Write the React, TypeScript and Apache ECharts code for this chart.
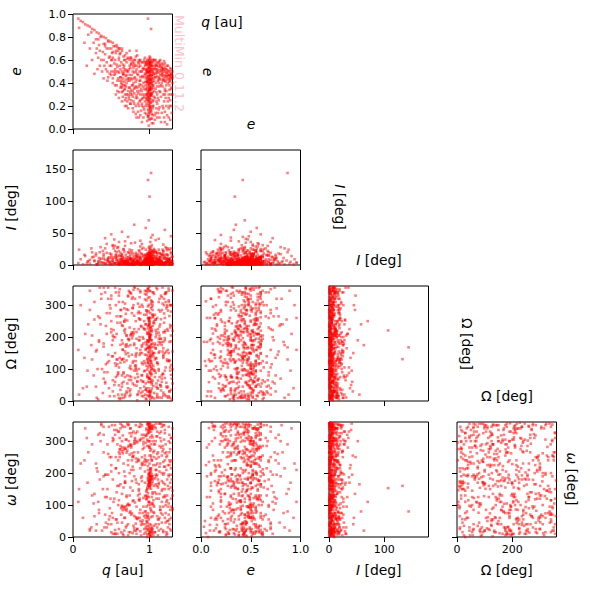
import React, { useEffect, useRef } from "react";
import * as echarts from "echarts";

// Rows, by region of the cloud: [q, e, I, Omega, omega]
const ridgeRows = [
[.98,.55,6,120,183],[1.01,.58,3,210,176],[1.04,.52,9,64,190],[.99,.47,2,301,160],[1.02,.6,12,178,205],[.97,.5,5,18,150],[1.05,.44,1,245,182],[1,.36,7,92,172],[.96,.41,4,333,142],[1.03,.31,11,156,196],
[1.02,.26,2,220,188],[.99,.22,8,40,167],[1.01,.18,5,275,179],[.97,.29,3,131,352],[1,.34,14,199,8],[1.03,.39,6,12,345],[.98,.45,1,350,20],[1.01,.51,9,86,3],[.99,.57,4,168,335],[1.04,.6,2,262,14],
[1.02,.15,10,108,27],[.98,.11,3,227,358],[1,.08,6,59,341],[1.03,.05,1,312,12],[.99,.03,4,185,32],[.96,.56,7,144,120],[1.01,.62,15,28,212],[1,.54,3,239,230],[.97,.49,2,77,125],[1.02,.43,5,290,248],
[.95,.38,8,163,130],[1.06,.33,4,8,160],[1,.28,1,203,108],[.98,.24,11,119,74],[1.01,.2,6,344,300],[1.03,.58,2,52,318],[.99,.53,18,255,285],[1.02,.48,4,137,62],[.97,.42,9,216,44],[1,.37,3,71,330],
[1.04,.32,7,309,174],[.98,.27,1,186,186],[1.01,.23,5,33,192],[1,.6,10,148,158],[.99,.56,2,281,200],[1.03,.5,13,101,168],[.96,.46,6,5,146],[1.02,.4,1,232,215],[1,.35,4,170,340],[.98,.3,8,323,355],
[1.05,.25,2,47,5],[1.01,.19,9,195,18],[.99,.14,3,259,348],[1.02,.09,6,124,38],[1,.59,1,358,177],[.97,.52,5,83,154],[1.03,.47,12,224,181],[1.01,.42,3,142,209],[.98,.38,7,296,137],[1,.33,2,15,171],
[1.02,.57,16,67,352],[.99,.61,4,188,9],[1.04,.55,1,270,338],[1,.49,8,114,25],[.97,.44,3,341,48],[1.01,.4,6,206,312],[1.03,.35,2,39,190],[.98,.28,10,153,175],[1,.21,5,248,202],[1.02,.16,1,96,162],
[.94,.48,9,318,128],[1.07,.53,3,175,184],[1,.63,6,24,195],[.99,.12,21,211,349],[1.01,.46,2,129,2],[.96,.35,4,283,118],[1.03,.29,7,58,22],[1,.26,1,192,356],[.98,.58,11,354,327],[1.02,.37,5,103,151],
[1,.52,24,160,178],[1.01,.44,19,228,15],[.99,.31,27,74,196],[1.02,.55,22,305,340],[.98,.2,16,139,165],[1.03,.41,31,11,30],[1,.57,29,252,164],[.97,.25,18,180,8],[1.01,.5,36,88,187],[1,.34,14,216,355],
[1,.5,3,198,170],[1.01,.47,1,165,186],[.99,.39,2,235,193],[1,.43,4,154,12],[1.02,.36,1,207,347],[.99,.27,2,172,178],[1,.31,5,243,160],[1.01,.55,1,126,200],[.98,.33,3,190,24],[1.03,.46,2,218,339]
];

const chevronRows = [
[.66,.48,7,132,92],[.68,.35,3,213,86],[.64,.42,11,45,98],[.7,.51,1,287,82],[.72,.3,5,171,104],[.74,.55,9,78,76],[.76,.44,2,336,70],[.78,.38,6,204,112],[.82,.5,4,112,62],[.84,.27,13,19,56],
[.86,.57,1,259,116],[.88,.45,8,150,50],[.9,.33,3,301,46],[.92,.53,6,61,122],[.94,.24,2,224,40],[.95,.58,10,184,30],[.97,.41,4,98,128],[.8,.31,7,357,66],[.7,.4,2,127,88],[.67,.5,5,248,94],
[.63,.37,14,9,90],[.73,.28,1,193,100],[.77,.47,4,320,74],[.81,.36,9,72,108],[.65,.33,3,161,84],[.69,.46,6,273,96],[.75,.22,2,36,80],[.83,.52,12,216,58],[.87,.39,1,144,114],[.91,.3,5,295,52],
[.66,.47,2,86,272],[.64,.39,8,237,268],[.68,.52,4,14,276],[.7,.3,1,178,264],[.72,.44,6,327,282],[.74,.36,3,103,258],[.76,.56,10,209,288],[.78,.28,2,55,252],[.8,.49,5,267,292],[.82,.41,1,139,246],
[.84,.33,7,2,296],[.86,.54,3,190,240],[.88,.25,11,345,304],[.9,.46,2,81,232],[.92,.37,4,229,310],[.94,.58,6,118,226],[.96,.3,1,284,318],[.98,.5,9,166,222],[.99,.43,3,30,326],[.71,.5,5,252,270],
[.67,.34,2,122,280],[.65,.44,12,310,262],[.73,.26,1,66,286],[.77,.38,4,196,262],[.79,.53,8,348,254],[.83,.29,3,150,300],[.85,.47,6,22,244],[.89,.35,1,233,308],[.93,.52,2,93,236],[.97,.4,7,278,322],
[.62,.45,4,176,274],[.6,.49,1,49,266],[.75,.32,9,339,290],[.81,.55,2,110,294],[.87,.42,5,256,302],[.91,.27,1,200,228],[.95,.48,3,8,316],[.69,.37,16,147,276],[.78,.58,6,292,250],[.85,.31,2,75,238]
];

const wedgeRows = [
[1.05,.58,5,140,100],[1.1,.55,2,260,230],[1.15,.53,8,33,300],[1.2,.5,3,190,60],[1.25,.47,1,315,150],[1.28,.45,6,82,20],[1.08,.52,11,222,340],[1.12,.49,4,151,120],[1.18,.56,2,17,275],[1.22,.52,7,290,210],
[1.27,.5,3,105,85],[1.06,.6,1,243,35],[1.11,.57,9,64,180],[1.16,.51,4,175,255],[1.21,.46,2,336,45],[1.26,.43,6,128,320],[1.09,.5,3,208,135],[1.14,.47,13,50,95],[1.19,.44,1,274,350],[1.24,.55,5,160,160],
[1.29,.48,2,3,240],[1.07,.55,7,95,15],[1.13,.59,3,233,285],[1.17,.48,1,305,70],[1.23,.49,10,41,115],[1.28,.52,4,187,195],[1.1,.46,2,120,330],[1.15,.43,6,256,25],[1.2,.54,1,72,262],[1.25,.5,8,352,105],
[1.04,.5,2,148,312],[1.12,.54,5,214,55],[1.18,.5,3,26,170],[1.24,.46,1,283,225],[1.3,.44,6,99,340],[1.05,.47,17,169,78],[1.16,.57,2,325,145],[1.22,.45,4,57,5],[1.27,.53,1,238,295],[1.09,.58,9,133,245],
[1.2,.42,3,197,130],[1.13,.44,12,11,205],[1.26,.41,2,266,40],[1.08,.48,6,88,355],[1.3,.5,1,346,90],[1.17,.53,24,155,268],[1.23,.43,4,225,10],[1.11,.51,2,39,155],[1.28,.47,7,113,310],[1.19,.59,3,300,220]
];

const fieldRows = [
[.45,.42,8,120,150],[.5,.55,14,250,40],[.55,.38,3,60,320],[.6,.62,22,310,200],[.65,.28,6,180,10],[.7,.66,2,30,130],[.75,.22,11,205,340],[.8,.6,4,95,190],[.85,.15,17,275,60],[.9,.5,1,150,225],
[.42,.65,26,340,70],[.48,.48,5,15,250],[.53,.72,12,222,110],[.58,.33,2,130,290],[.63,.58,9,285,15],[.68,.25,30,75,170],[.73,.52,1,190,300],[.78,.18,7,325,145],[.83,.68,15,48,235],[.88,.12,3,160,85],
[.35,.68,20,260,180],[.38,.5,4,100,20],[.4,.74,10,355,265],[.44,.58,33,210,125],[.47,.7,2,40,345],[.52,.44,7,140,60],[.56,.66,16,300,215],[.59,.5,1,85,100],[.62,.36,5,245,355],[.66,.63,25,10,155],
[.69,.43,3,170,30],[.72,.33,12,330,240],[.76,.62,6,65,285],[.79,.4,1,215,115],[.82,.2,19,125,325],[.86,.6,4,280,165],[.89,.38,8,25,5],[.92,.1,2,195,95],[.94,.62,13,345,255],[.96,.22,6,110,50],
[.3,.78,18,155,230],[.33,.62,6,5,110],[.36,.8,28,240,300],[.41,.55,3,90,30],[.46,.76,11,320,195],[.51,.6,1,175,75],[.54,.47,40,50,335],[.57,.73,8,265,140],[.61,.42,4,135,260],[.64,.7,2,20,45],
[.67,.55,21,290,205],[.71,.24,5,80,355],[.74,.68,9,230,100],[.77,.3,1,145,175],[.81,.45,35,355,310],[.84,.64,3,60,25],[.87,.24,14,200,135],[.91,.58,2,115,275],[.93,.17,7,270,65],[.95,.34,10,35,240],
[1.08,.35,4,165,300],[1.12,.25,9,310,40],[1.16,.4,1,70,110],[1.2,.15,13,220,220],[1.25,.3,5,125,345],[1.28,.2,2,280,95],[1.1,.1,7,15,160],[1.15,.06,3,185,280],[1.22,.38,11,340,15],[1.27,.08,1,95,235],
[1.06,.28,23,250,75],[1.09,.18,2,55,190],[1.13,.37,6,205,325],[1.18,.3,1,140,125],[1.23,.12,16,295,255],[1.26,.34,4,30,55],[1.11,.42,8,175,5],[1.17,.2,3,355,150],[1.21,.27,28,105,290],[1.29,.36,1,235,180],
[1.07,.12,5,75,345],[1.14,.32,2,195,85],[1.19,.1,10,320,200],[1.24,.24,6,45,30],[1.3,.3,3,155,130],[1.05,.38,1,265,265],[1.1,.22,19,120,315],[1.16,.14,4,10,175],[1.2,.35,2,215,240],[1.25,.18,8,345,70],
[.72,.42,44,150,40],[.88,.3,38,40,215],[1.04,.2,47,285,135],[.64,.5,52,190,300],[1.12,.45,41,95,355],[.95,.56,58,240,80],[.5,.6,48,330,250],[1.2,.33,55,20,165],[.8,.35,63,175,20],[.6,.7,36,105,330],
[.99,.44,70,250,110],[.42,.72,42,60,195],[1.28,.48,45,300,60],[.76,.57,34,210,280],[1.08,.14,39,135,225],[.55,.52,30,355,10],[.9,.2,33,80,320],[1.18,.52,32,165,95],[.68,.38,37,225,170],[1.02,.3,43,30,255],
[.98,.96,4,260,210],[.25,.6,12,205,130],[.18,.55,2,45,310],[.28,.48,6,310,65],[.15,.75,16,135,240],[.4,.44,3,180,345],[.08,.88,24,20,150],[.22,.7,8,285,25],[.32,.52,1,100,205]
];

const tailRows = [
[.07,.96,3,160,110],[.1,.94,9,300,230],[.13,.93,1,40,60],[.16,.91,14,210,340],[.19,.9,5,95,170],[.22,.89,2,345,20],[.25,.87,20,130,290],[.28,.86,7,255,135],[.31,.84,1,10,215],[.34,.83,11,185,75],
[.37,.81,4,320,350],[.4,.8,17,70,190],[.43,.79,2,235,45],[.46,.77,6,145,260],[.49,.76,1,290,120],[.52,.75,9,30,310],[.55,.72,3,200,10],[.58,.71,13,115,160],[.61,.7,1,350,250],[.64,.68,5,80,95],
[.24,.84,26,175,30],[.33,.78,3,265,320],[.42,.74,8,55,125],[.5,.7,2,225,205],[.56,.68,15,340,55],[.62,.66,1,120,285],[.68,.64,6,20,175],[.72,.62,3,195,5],[.77,.6,10,275,240],[.82,.63,2,105,350]
];

// Second reading: the broad body of the cloud, with the inclinations spread out to about 30 deg
const bodyRows = [
[.62,.52,14,35,340],[.55,.6,22,118,22],[.7,.47,9,205,305],[.78,.33,18,290,12],[.84,.48,6,62,330],[.9,.22,25,175,350],[.95,.44,12,240,70],[1.1,.3,16,22,260],[1.18,.42,21,135,20],[1.25,.27,8,310,190],
[.58,.42,27,80,45],[.65,.56,5,160,318],[.73,.36,19,345,352],[.8,.57,11,225,28],[.86,.2,23,100,345],[.92,.4,15,15,298],[.97,.6,7,190,66],[1.07,.45,20,270,140],[1.14,.56,10,50,230],[1.22,.2,26,155,110],
[.5,.5,17,320,15],[.57,.56,8,210,335],[.66,.38,24,90,5],[.74,.6,13,30,325],[.82,.27,4,145,42],[.88,.55,29,255,18],[.94,.3,16,335,80],[.99,.5,10,70,300],[1.04,.12,21,180,105],[1.12,.4,6,285,250],
[.47,.62,12,125,55],[.53,.5,26,200,305],[.6,.32,15,10,25],[.68,.6,7,305,345],[.76,.25,20,75,315],[.83,.43,9,165,10],[.89,.16,18,235,38],[.93,.6,3,45,280],[.98,.17,14,350,240],[1.03,.55,23,115,125],
[1.09,.24,11,215,210],[1.15,.5,17,330,75],[1.2,.47,5,95,325],[1.26,.38,24,185,265],[1.3,.46,13,55,145],[.44,.7,19,275,30],[.51,.66,6,140,350],[.59,.44,28,20,330],[.67,.41,11,250,20],[.75,.53,16,110,340],
[.81,.6,2,320,305],[.87,.33,21,190,75],[.91,.45,13,60,40],[.96,.13,8,270,335],[1.01,.29,18,5,100],[1.06,.6,25,150,250],[1.11,.14,4,225,55],[1.17,.37,15,85,285],[1.23,.55,9,300,130],[1.28,.3,20,35,215],
[.4,.6,14,170,320],[.46,.45,9,355,40],[.52,.67,30,65,300],[.58,.54,5,245,10],[.64,.32,17,130,350],[.7,.58,8,25,35],[.77,.43,23,215,325],[.82,.13,3,100,20],[.87,.5,12,295,60],[.92,.19,27,180,290],
[.96,.5,15,40,235],[.99,.09,6,260,125],[1.02,.34,19,120,275],[1.05,.2,11,340,115],[1.08,.6,22,200,165],[1.13,.19,7,75,220],[1.16,.46,16,285,45],[1.2,.3,2,150,335],[1.24,.4,26,10,95],[1.27,.46,10,230,275],
[.98,.53,17,105,60],[.99,.4,9,30,110],[1,.46,13,325,255],[1.01,.29,20,260,90],[1.02,.52,5,175,290],[.97,.36,11,75,35],[.98,.49,7,210,100],[1,.24,15,15,280],[1.01,.56,25,140,270],[1.03,.44,3,295,240],
[.95,.52,16,55,15],[.96,.26,8,345,95],[.97,.59,12,165,305],[.99,.16,19,240,55],[1,.41,6,110,345],[1.01,.35,14,20,215],[1.02,.23,28,190,330],[1.03,.53,2,85,105],[1.04,.38,10,270,65],[1.05,.49,21,150,300],
[.93,.46,9,225,25],[.95,.2,24,35,60],[.96,.57,4,315,340],[.98,.11,13,125,300],[1,.53,18,205,40],[1.02,.31,7,60,85],[1.04,.18,16,340,140],[1.06,.42,11,95,270],[1.07,.27,3,180,15],[1.08,.56,20,255,195],
[1.1,.52,13,10,65],[1.12,.58,7,195,20],[1.14,.51,18,280,310],[1.16,.48,3,80,200],[1.18,.46,22,145,350],[1.2,.57,10,335,150],[1.22,.49,5,45,250],[1.24,.51,15,220,50],[1.26,.47,8,125,225],[1.28,.44,26,300,120],
[1.06,.52,14,25,290],[1.08,.45,4,165,210],[1.1,.49,19,350,30],[1.12,.43,9,100,165],[1.14,.55,12,240,85],[1.16,.54,6,60,345],[1.18,.43,17,185,235],[1.21,.52,2,310,100],[1.23,.47,23,130,180],[1.25,.44,7,15,300],
[.52,.4,4,190,180],[.56,.3,11,75,215],[.6,.27,7,330,160],[.64,.24,15,130,135],[.68,.2,3,255,190],[.72,.18,20,40,225],[.75,.3,9,175,155],[.79,.15,5,300,210],[.83,.1,13,95,170],[.86,.37,2,225,150],
[.9,.06,17,15,190],[.94,.14,8,145,205],[.62,.45,19,285,165],[.66,.53,6,60,230],[.7,.2,12,205,125],[.74,.42,24,340,200],[.78,.5,1,120,220],[.82,.37,16,250,180],[.86,.1,10,30,145],[.9,.58,4,170,175],
[.45,.5,6,90,290],[.48,.63,18,300,65],[.5,.47,11,215,225],[.54,.57,3,15,120],[.57,.38,20,130,55],[.61,.65,9,265,310],[.3,.66,15,45,20],[.34,.73,4,190,85],[.37,.6,10,335,355],[.43,.52,2,115,195],
[.2,.82,6,240,265],[.27,.75,13,80,105],[.31,.7,1,160,40],[.35,.55,8,355,325],[.39,.67,22,25,150],[.48,.55,4,275,90],[.52,.62,31,205,10],[.56,.5,12,110,250],[.6,.6,2,340,115],[.64,.36,9,55,280],
[1.04,.24,8,235,345],[1.07,.08,14,130,290],[1.1,.37,3,40,195],[1.13,.1,19,320,60],[1.15,.28,6,195,330],[1.18,.18,11,85,15],[1.2,.06,2,260,125],[1.22,.33,17,15,265],[1.25,.1,9,150,195],[1.27,.25,4,300,25],
[1.29,.14,13,70,310],[1.3,.4,1,220,85],[1.05,.05,20,110,225],[1.09,.32,7,355,120],[1.12,.17,24,185,170],[1.15,.38,2,45,355],[1.19,.24,15,245,305],[1.23,.04,5,125,50],[1.26,.2,10,30,240],[1.28,.35,18,205,155],
[.68,.3,3,155,60],[.72,.5,8,285,350],[.75,.62,1,20,15],[.79,.24,14,210,330],[.84,.36,5,85,25],[.88,.6,11,340,345],[.93,.35,2,125,320],[.97,.07,9,30,0],[1,.14,4,260,345],[1.03,.09,16,190,20],
[.98,.33,1,60,355],[1,.19,7,135,15],[1.02,.43,3,315,5],[1.01,.58,12,230,340],[1.05,.36,6,100,350],[.96,.51,2,175,25],[.99,.25,10,15,335],[1,.39,5,345,190],[1.01,.17,8,200,170],[1.02,.3,1,80,182],
[.55,.48,2,150,350],[.63,.4,6,265,70],[.71,.61,3,55,100],[.8,.44,1,180,265],[.85,.58,7,305,130],[.9,.26,2,120,250],[.94,.41,5,20,170],[.97,.31,1,210,285],[1.06,.48,3,335,95],[1.13,.33,1,155,135],
[.59,.68,4,90,240],[.65,.48,1,235,345],[.69,.27,5,175,305],[.74,.47,2,15,130],[.79,.55,1,125,35],[.85,.22,4,350,265],[.89,.5,1,65,185],[.93,.28,3,250,10],[1.03,.13,1,145,240],[1.09,.55,3,45,315],
[.76,.34,1,100,210],[.83,.55,2,195,95],[.88,.42,1,275,355],[.91,.52,4,30,75],[.95,.27,1,160,295],[.98,.46,2,235,65],[1,.58,1,70,280],[1.04,.41,3,300,25],[1.11,.27,1,115,265],[1.18,.52,2,215,195],
[1.21,.41,1,340,75],[1.27,.42,2,10,170],[1.14,.6,1,180,355],[1.08,.4,2,255,40],[.94,.55,1,95,245],[.87,.59,2,325,120],[.8,.22,1,50,300],[.73,.44,3,140,15],[.67,.6,1,220,60],[.61,.55,2,5,275]
];

const outlierRows = [
[1,.34,107,221,153],[1.02,.87,144,168,80],[.98,.42,133,131,160]
];

const allRows = [...ridgeRows, ...chevronRows, ...wedgeRows, ...fieldRows, ...tailRows, ...bodyRows, ...outlierRows];

const qTicks = [0, 1];
const eTicksY = [0, 0.2, 0.4, 0.6, 0.8, 1];
const eTicksX = [0, 0.5, 1];
const incTicksY = [0, 50, 100, 150];
const incTicksX = [0, 100];
const nodeTicksX = [0, 200];
const angleTicksY = [0, 100, 200, 300];

const FONT = "DejaVu Sans";
const TICK = 11;
const LABEL = 13.9;
const rich = { i: { fontStyle: "italic", fontSize: LABEL, fontFamily: FONT, color: "#000" }, n: { fontSize: LABEL, fontFamily: FONT, color: "#000" } };

const vars = [
  { name: "{i|q}{n| [au]}", max: 1.3, xTicks: qTicks, yTicks: qTicks, fmt: (v: number) => String(v) },
  { name: "{i|e}", max: 1, xTicks: eTicksX, yTicks: eTicksY, fmt: (v: number) => v.toFixed(1) },
  { name: "{i|I}{n| [deg]}", max: 180, xTicks: incTicksX, yTicks: incTicksY, fmt: (v: number) => String(v) },
  { name: "{n|Ω [deg]}", max: 360, xTicks: nodeTicksX, yTicks: angleTicksY, fmt: (v: number) => String(v) },
  { name: "{i|ω}{n| [deg]}", max: 360, xTicks: nodeTicksX, yTicks: angleTicksY, fmt: (v: number) => String(v) },
];

const colLeft = [73, 201, 329, 457];
const rowTop = [14, 150, 286, 422];
const PW = 99.5;
const PH = 115;

function label(text: string, x: number, y: number, rotation = 0) {
  return {
    type: "text", x, y, rotation,
    style: { text, rich, fontSize: LABEL, fontFamily: FONT, fill: "#000", align: "center", verticalAlign: "middle" },
  };
}

function buildOption() {
  const grid: any[] = [], xAxis: any[] = [], yAxis: any[] = [], series: any[] = [];
  for (let r = 0; r < 4; r++) {
    for (let c = 0; c <= r; c++) {
      const xi = c, yi = r + 1, idx = grid.length;
      const xv = vars[xi], yv = vars[yi];
      const bottom = r === 3, left = c === 0;
      grid.push({ left: colLeft[c], top: rowTop[r], width: PW, height: PH, show: true, borderColor: "#000", borderWidth: 1, backgroundColor: "#fff" });
      xAxis.push({
        type: "value", gridIndex: idx, min: 0, max: xv.max,
        name: bottom ? xv.name : "", nameLocation: "middle", nameGap: 26,
        nameTextStyle: { rich, fontFamily: FONT, fontSize: LABEL },
        axisLine: { show: false }, splitLine: { show: false },
        axisTick: { show: true, length: 5, customValues: xv.xTicks, lineStyle: { color: "#000", width: 1 } },
        axisLabel: { show: bottom, customValues: xv.xTicks, formatter: xv.fmt, fontSize: TICK, fontFamily: FONT, color: "#000", margin: 7, hideOverlap: false },
      });
      yAxis.push({
        type: "value", gridIndex: idx, min: 0, max: yv.max,
        name: left ? yv.name : "", nameLocation: "middle", nameGap: r === 0 ? 50 : 55, nameRotate: 90,
        nameTextStyle: { rich, fontFamily: FONT, fontSize: LABEL },
        axisLine: { show: false }, splitLine: { show: false },
        axisTick: { show: true, length: 5, customValues: yv.yTicks, lineStyle: { color: "#000", width: 1 } },
        axisLabel: { show: left, customValues: yv.yTicks, formatter: yv.fmt, fontSize: TICK, fontFamily: FONT, color: "#000", margin: 7, hideOverlap: false },
      });
      series.push({
        type: "scatter", xAxisIndex: idx, yAxisIndex: idx, symbol: "rect", symbolSize: 2.6, silent: true, clip: true,
        itemStyle: { color: "#ff0000", opacity: 0.5 },
        data: allRows.map((row) => [row[xi], row[yi]]),
      });
    }
  }
  const graphic = [
    label("{i|q}{n| [au]}", 222, 22),
    label("{i|e}", 208, 72, -Math.PI / 2),
    label("{i|e}", 251, 124),
    label("{i|I}{n| [deg]}", 340, 207, -Math.PI / 2),
    label("{i|I}{n| [deg]}", 379, 260),
    label("{n|Ω [deg]}", 467, 344, -Math.PI / 2),
    label("{n|Ω [deg]}", 507, 396),
    label("{i|ω}{n| [deg]}", 572, 479, -Math.PI / 2),
    {
      type: "text", x: 179, y: 63.5, rotation: -Math.PI / 2,
      style: { text: "MultiMin 0.11.2", fontSize: 12.6, fontFamily: FONT, fill: "#ffc0cb", align: "center", verticalAlign: "middle" },
    },
  ];
  return { animation: false, backgroundColor: "#fff", grid, xAxis, yAxis, series, graphic };
}

export default function App() {
  const ref = useRef<HTMLDivElement>(null);
  useEffect(() => {
    document.body.style.margin = "0";
    const chart = echarts.init(ref.current!, null, { renderer: "svg" });
    chart.setOption(buildOption() as any);
    return () => chart.dispose();
  }, []);
  return <div ref={ref} style={{ position: "absolute", left: 0, top: 0, width: 590, height: 590 }} />;
}
